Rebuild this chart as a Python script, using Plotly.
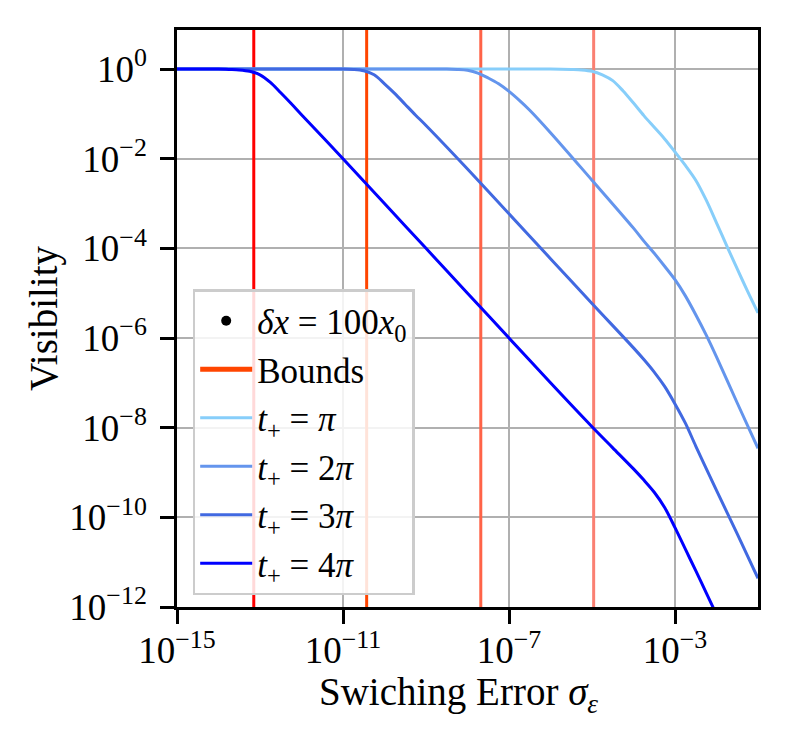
import plotly.graph_objects as go

# log10 of switching error / log10 of visibility
pi_x = [-15, -14, -13, -12, -11, -10, -9, -8, -7, -6, -5.5, -5.25, -5, -4.75, -4.5,
        -4.25, -4, -3.75, -3.5, -3.25, -3, -2.75, -2.5, -2.25, -2, -1.75, -1.5, -1.25, -1]
pi_v = [0, 0, 0, 0, 0, 0, 0, 0, 0, 0, -0.01, -0.02, -0.05, -0.13, -0.26,
        -0.49, -0.76, -1.04, -1.3, -1.56, -1.85, -2.15, -2.48, -2.92, -3.43, -3.95, -4.46, -4.96, -5.44]

pi2_x = [-15, -14, -13, -12, -11, -10, -9, -8.5, -8.25, -8, -7.75, -7.5, -7.25, -7, -6.75,
         -6.5, -6, -5, -4, -3.75, -3.5, -3.25, -3, -2.75, -2.5, -2.25, -2, -1.5, -1]
pi2_v = [0, 0, 0, 0, 0, 0, 0, 0, -0.01, -0.03, -0.09, -0.2, -0.33, -0.5, -0.7,
         -0.92, -1.42, -2.48, -3.55, -3.84, -4.11, -4.4, -4.7, -5.06, -5.48, -5.93, -6.42, -7.45, -8.46]

pi3_x = [-15, -14, -13, -12, -11, -10.75, -10.5, -10.25, -10, -9.75, -9.5, -9.25, -9, -8,
         -7, -6, -5, -4, -3.75, -3.5, -3.25, -3, -2.75, -2.5, -2.25, -2, -1.5, -1]
pi3_v = [0, 0, 0, 0, 0, -0.01, -0.04, -0.13, -0.33, -0.55, -0.79, -1.03, -1.26, -2.23,
         -3.23, -4.23, -5.23, -6.22, -6.48, -6.76, -7.08, -7.47, -7.9, -8.41, -8.91, -9.4, -10.37, -11.36]

pi4_x = [-15, -14, -13.75, -13.5, -13.25, -13, -12.75, -12.5, -12.25, -12, -11, -10, -9, -8,
         -7, -6, -5, -4.5, -4, -3.75, -3.5, -3.25, -3, -2.75, -2.5, -2.25, -2]
pi4_v = [0, 0, -0.01, -0.02, -0.05, -0.13, -0.3, -0.53, -0.77, -1.02, -2.0, -3.0, -4.0, -5.0,
         -6.0, -7.0, -7.98, -8.45, -8.92, -9.17, -9.44, -9.78, -10.23, -10.71, -11.19, -11.68, -12.17]

curve_names = ["<i>t</i><sub>+</sub> = <i>π</i>", "<i>t</i><sub>+</sub> = 2<i>π</i>",
               "<i>t</i><sub>+</sub> = 3<i>π</i>", "<i>t</i><sub>+</sub> = 4<i>π</i>"]
curve_colors = ["#87CEFA", "#6495ED", "#4169E1", "#0000FF"]

bound_exp = [-13.15, -10.43, -7.68, -4.96]
bound_colors = ["#FF0000", "#FF4500", "#FF6347", "#FA8072"]

x_ticks = [1e-15, 1e-11, 1e-7, 1e-3]
x_ticktext = ["10<sup>−15</sup>", "10<sup>−11</sup>", "10<sup>−7</sup>", "10<sup>−3</sup>"]
y_ticks = [1e0, 1e-2, 1e-4, 1e-6, 1e-8, 1e-10, 1e-12]
y_ticktext = ["10<sup>0</sup>", "10<sup>−2</sup>", "10<sup>−4</sup>", "10<sup>−6</sup>",
              "10<sup>−8</sup>", "10<sup>−10</sup>", "10<sup>−12</sup>"]

X_RANGE = [-15, -1]
Y_RANGE = [-12, 0.87]

FONT = "Liberation Serif"

fig = go.Figure()

# legend-only entries
fig.add_trace(go.Scatter(x=[None], y=[None], mode="markers",
                         marker=dict(color="black", size=10),
                         name="<i>δx</i> = 100<i>x</i><sub>0</sub>"))
fig.add_trace(go.Scatter(x=[None], y=[None], mode="lines",
                         line=dict(color="#FF4500", width=5), name="Bounds"))

# vertical bound lines spanning the axis
for b, c in zip(bound_exp, bound_colors):
    fig.add_trace(go.Scatter(x=[10 ** b, 10 ** b],
                             y=[10 ** (Y_RANGE[0] - 1), 10 ** (Y_RANGE[1] + 1)],
                             mode="lines", line=dict(color=c, width=3),
                             showlegend=False, hoverinfo="skip"))

curves = [(pi_x, pi_v), (pi2_x, pi2_v), (pi3_x, pi3_v), (pi4_x, pi4_v)]
for (xs, vs), name, c in zip(curves, curve_names, curve_colors):
    fig.add_trace(go.Scatter(x=[10 ** e for e in xs], y=[10 ** v for v in vs], mode="lines",
                             line=dict(color=c, width=3, shape="spline", smoothing=0.9),
                             name=name))

axis_common = dict(
    showline=True, linecolor="black", linewidth=2.5, mirror=True,
    ticks="outside", ticklen=14, tickwidth=2.5, tickcolor="black",
    showgrid=True, gridcolor="#b0b0b0", gridwidth=2,
    zeroline=False, automargin=False,
    tickfont=dict(family=FONT, size=37, color="black"),
)

fig.update_xaxes(type="log", range=X_RANGE, tickvals=x_ticks, ticktext=x_ticktext,
                 ticklabelstandoff=-5, **axis_common)
fig.update_yaxes(type="log", range=Y_RANGE, tickvals=y_ticks, ticktext=y_ticktext,
                 ticklabelstandoff=6,
                 title=dict(text="Visibility",
                            font=dict(family=FONT, size=39, color="black"), standoff=0),
                 **axis_common)

# x axis title placed as annotation
fig.add_annotation(text="Swiching Error <i>σ</i><sub><i>ε</i></sub>",
                   xref="paper", yref="paper", x=0.484, y=-0.151,
                   xanchor="center", yanchor="middle", showarrow=False,
                   font=dict(family=FONT, size=39, color="black"))

fig.update_layout(
    width=780, height=737,
    margin=dict(l=169, r=30, t=22, b=138),
    plot_bgcolor="white", paper_bgcolor="white",
    font=dict(family=FONT, color="black"),
    legend=dict(x=0.027, y=0.551, xanchor="left", yanchor="top", itemwidth=52,
                bgcolor="rgba(255,255,255,0.85)", bordercolor="#cccccc", borderwidth=2.5,
                font=dict(family=FONT, size=35, color="black")),
)

fig.write_html("out.html")
